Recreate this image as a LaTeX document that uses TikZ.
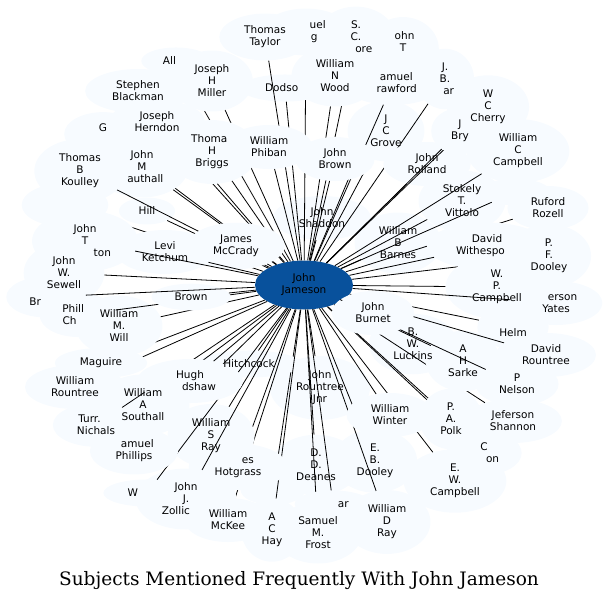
\documentclass[tikz,border=0pt]{standalone}
\usepackage{fontspec}
\setmainfont{DejaVu Sans}
\newfontfamily\titlefont{DejaVu Serif}
\usetikzlibrary{shapes.geometric}
\definecolor{CloudBlue}{HTML}{F7FBFF}
\definecolor{CoreBlue}{HTML}{08519C}
\tikzset{
  subject/.style={ellipse, fill=CloudBlue, inner xsep=11.5pt, inner ysep=5.5pt,
                  align=center, font=\fontsize{10.5}{12}\selectfont},
  link/.style={draw=black, line width=0.8pt},
}
% name/x/y/label, in drawing order
\newcommand{\subjects}{
  jsh/322/218/{John\\Shaddon}, wbb/398/243/{William\\B\\Barnes},
  sk/306/32/{\phantom{Sam}uel\\\phantom{Kin}g}, scm/356/37/{S.\\C.\\\phantom{Mo}ore},
  jtc/403/49/{\phantom{J}ohn\\T\\\phantom{Craig}}, all/176/61/{All\phantom{en}},
  sb/138/91/{Stephen\\Blackman}, jhe/157/122/{Joseph\\Herndon},
  gf/103/134/{G\\\phantom{Fuhan}}, gm/65/205/{\phantom{George}\\\phantom{M}},
  jhm/212/81/{Joseph\\H\\Miller}, dod/285/88/{Dodso\phantom{n}},
  tt/265/37/{Thomas\\Taylor}, wnw/335/76/{William\\N\\Wood},
  jcg/386/131/{J\\C\\Grove}, jbc/445/79/{J.\\B.\\\phantom{C}ar},
  scr/393/83/{\phantom{S}amuel\\\phantom{C}rawford}, jro/427/164/{John\\Rolland},
  wcc/488/107/{W\\C\\Cherry}, jbr/460/131/{J\\Bry},
  wph/269/147/{William\\Phiban}, thb/212/152/{Thoma\phantom{s}\\H\\Briggs},
  jb/335/159/{John\\Brown}, stv/462/201/{Stokely\\T.\\Vittolo},
  wccb/518/151/{William\\C\\Campbell}, hid/515/192/{\phantom{Isaac}},
  rr/548/208/{Ruford\\Rozell}, dw/487/246/{David\\Withespo\phantom{on}},
  pfd/549/256/{P.\\F.\\Dooley}, wpc/497/287/{W.\\P.\\Campbell},
  jy/556/303/{\phantom{Jef}erson\\Yates}, hel/513/327/{\phantom{W.}\\Helm},
  bwl/413/344/{B.\\W.\\Luckins}, js/513/421/{Jeferson\\Shannon},
  ahs/463/361/{A\\H\\Sarke}, drt/546/355/{David\\Rountree},
  pn/517/384/{P\\Nelson}, cdx/484/453/{C\\\phantom{Dix}on},
  pap/451/419/{P.\\A.\\Polk}, ewc/455/481/{E.\\W.\\Campbell},
  jrj/320/388/{John\\Rountree\\Jnr}, ddd/316/465/{D.\\D.\\Deanes},
  smf/318/533/{Samuel\\M.\\Frost}, ebd/375/461/{E.\\B.\\Dooley},
  wdr/387/522/{William\\D\\Ray}, ar/333/504/{\phantom{Ced}ar},
  ww/390/415/{William\\Winter}, jo/273/490/{\phantom{John}},
  hit/249/364/{Hitchcock}, ach/272/530/{A\\C\\Hay},
  wmk/228/520/{William\\McKee}, jhg/238/467/{\phantom{Jam}es\\Hotgrass},
  wsr/211/436/{William\\S\\Ray}, jjz/186/499/{John\\J.\\Zollic\phantom{offe}},
  wfr/147/493/{W\phantom{illiam}}, sph/134/451/{\phantom{S}amuel\\Phillips},
  was/143/405/{William\\A\\Southall}, tn/96/425/{Turr.\phantom{ne}\\Nichals},
  wr/75/387/{William\\Rountree}, mag/101/363/{Maguire},
  hb/190/381/{Hugh\\\phantom{Bra}dshaw}, hill/147/211/{Hill},
  jms/142/167/{John\\M\\\phantom{S}authall}, tbk/80/171/{Thomas\\B\\Koulley},
  jmc/236/246/{James\\McCrady}, lk/165/252/{Levi\\Ketchum},
  jws/64/273/{John\\W.\\Sewell}, jtm/85/241/{John\\T\\\phantom{Middle}ton},
  wmw/119/326/{William\\M.\\Will}, pch/78/315/{Phill\phantom{ip}\\Ch\phantom{rist}},
  bro/191/297/{Brown}, brf/46/297/{\phantom{x}\\Br\phantom{own}},
  jbu/373/313/{John\\Burnet}}

\begin{document}
\begin{tikzpicture}[x=1pt, y=-1pt]
\useasboundingbox (0,0) rectangle (603,603);
\node[ellipse, fill=CoreBlue, minimum width=98pt, minimum height=49pt, inner sep=0pt,
      align=center, font=\fontsize{10.5}{12}\selectfont] (jj) at (304,285) {John\\Jameson};
% clouds and links
\foreach \name/\x/\y/\txt in \subjects {
  \node[subject, text opacity=0] (\name) at (\x,\y) {\txt};
  \draw[link] (jj) -- (\name);
}
% names on top
\foreach \name/\x/\y/\txt in \subjects
  \node[subject, fill=none] at (\x,\y) {\txt};
\node[font=\titlefont\fontsize{18.5}{22}\selectfont] (title) at (299,581)
  {Subjects Mentioned Frequently With John Jameson};
\end{tikzpicture}
\end{document}
